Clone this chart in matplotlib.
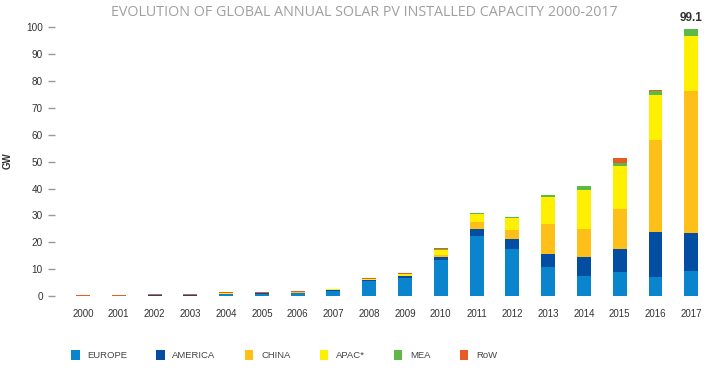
import numpy as np
import matplotlib
matplotlib.use('Agg')
import matplotlib.pyplot as plt
from matplotlib.patches import Patch

years = [str(y) for y in range(2000, 2018)]

# GW per region
europe  = [0.05, 0.10, 0.20, 0.20, 0.70, 1.00, 1.20, 2.00, 5.8, 6.9, 13.5, 22.4, 17.7, 10.8, 7.4, 8.9, 7.1, 9.3]
america = [0.02, 0.03, 0.10, 0.10, 0.10, 0.15, 0.20, 0.30, 0.1, 0.5, 1.2, 2.7, 3.6, 4.9, 7.3, 8.6, 16.8, 14.1]
china   = [0.00, 0.00, 0.05, 0.05, 0.05, 0.05, 0.05, 0.05, 0.1, 0.2, 0.5, 2.6, 3.3, 11.3, 10.4, 14.8, 34.1, 52.9]
apac    = [0.13, 0.15, 0.30, 0.30, 0.40, 0.20, 0.30, 0.20, 0.5, 0.7, 2.0, 2.7, 4.5, 9.9, 14.4, 16.1, 16.7, 20.5]
mea     = [0.00, 0.00, 0.00, 0.00, 0.00, 0.00, 0.00, 0.00, 0.0, 0.0, 0.4, 0.6, 0.5, 0.6, 1.5, 1.0, 1.5, 2.3]
row     = [0.10, 0.10, 0.25, 0.25, 0.30, 0.20, 0.20, 0.20, 0.3, 0.2, 0.2, 0.0, 0.0, 0.0, 0.0, 1.9, 0.5, 0.0]

regions = ['EUROPE', 'AMERICA', 'CHINA', 'APAC*', 'MEA', 'RoW']
colors = ['#0a84cc', '#034ea2', '#fdbf18', '#fef000', '#5cb947', '#e95b26']
total_label = '99.1'

series = [europe, america, china, apac, mea, row]

fig = plt.figure(figsize=(7.07, 3.74), dpi=100)
ax = fig.add_axes([0.087, 0.2078, 0.911, 0.756])

x = np.arange(len(years))
bottom = np.zeros(len(years))
for vals, c in zip(series, colors):
    vals = np.array(vals)
    ax.bar(x, vals, bottom=bottom, width=0.39, color=c, linewidth=0)
    bottom += vals

# total on top of the last bar
ax.annotate(total_label, xy=(x[-1], bottom[-1]), xytext=(0, 4), textcoords='offset points',
            ha='center', va='bottom', fontsize=8.5, color='#333333',
            fontweight='bold', family='Liberation Sans')

ax.set_xlim(-0.6, 17.4)
ax.set_ylim(0, 105)
ax.set_yticks(range(0, 101, 10))
ax.set_xticks(x)
ax.set_xticklabels(years)

for s in ax.spines.values():
    s.set_visible(False)
ax.spines['left'].set_position(('outward', 5))

ax.tick_params(axis='y', length=5, width=1, color='#999999', pad=3.5,
               labelsize=7.2, labelcolor='#333333')
ax.tick_params(axis='x', length=0, pad=9, labelsize=7, labelcolor='#333333')
for lab in ax.get_xticklabels() + ax.get_yticklabels():
    lab.set_family('Liberation Sans')

fig.text(8 / 707, 1 - 161 / 374, 'GW', rotation=90, ha='center', va='center',
         fontsize=7, fontweight='bold', color='#333333', family='Liberation Sans')

fig.text(364 / 707, 1 - 12 / 374,
         'EVOLUTION OF GLOBAL ANNUAL SOLAR PV INSTALLED CAPACITY 2000-2017',
         ha='center', va='center', fontsize=10.3, color='#a0a0a0', family='Open Sans')

handles = [Patch(facecolor=c, edgecolor='none') for c in colors]
fig.legend(handles, regions, loc='center', bbox_to_anchor=(284 / 707, 1 - 355 / 374),
           ncol=6, frameon=False, handlelength=0.9, handleheight=1.4,
           handletextpad=0.8, columnspacing=3.1,
           prop={'family': 'Liberation Sans', 'size': 6.8},
           labelcolor='#444444')

fig.savefig('out.png', dpi=100)
